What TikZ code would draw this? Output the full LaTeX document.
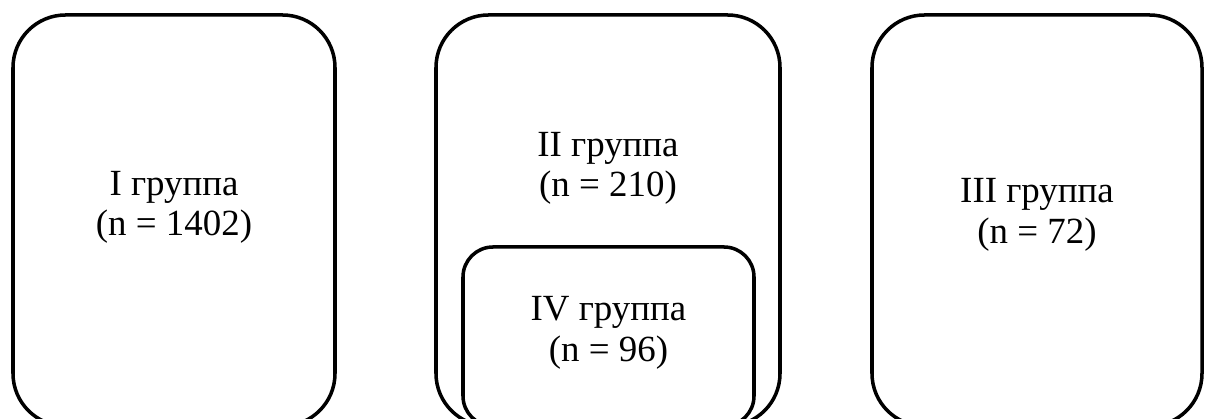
\documentclass[tikz,border=0pt]{standalone}
\usepackage{fontspec}
\setmainfont{Liberation Serif}
\begin{document}
\begin{tikzpicture}[
    group/.style={draw, line width=2pt, rounded corners=1.05cm, inner sep=0pt},
    subgroup/.style={draw, line width=2pt, rounded corners=0.6cm, inner sep=0pt},
    caption/.style={align=center, font=\fontsize{21}{23}\selectfont}
]
    \clip (0,0) rectangle (24.12,8.38);
    % группы
    \node[group, minimum width=6.44cm, minimum height=8.22cm] (g1) at (3.48,3.97) {};
    \node[group, minimum width=6.88cm, minimum height=8.22cm] (g2) at (12.16,3.97) {};
    \node[group, minimum width=6.6cm, minimum height=8.22cm] (g3) at (20.74,3.97) {};
    \node[subgroup, minimum width=5.82cm, minimum height=3.58cm] (g4) at (12.17,1.65) {};
    
    % подписи
    \node[caption] (t1) at (3.48,4.23) {I группа\\(n = 1402)};
    \node[caption] (t2) at (12.16,5.01) {II группа\\(n = 210)};
    \node[caption] (t3) at (20.74,4.08) {III группа\\(n = 72)};
    \node[caption] (t4) at (12.17,1.72) {IV группа\\(n = 96)};
\end{tikzpicture}
\end{document}
